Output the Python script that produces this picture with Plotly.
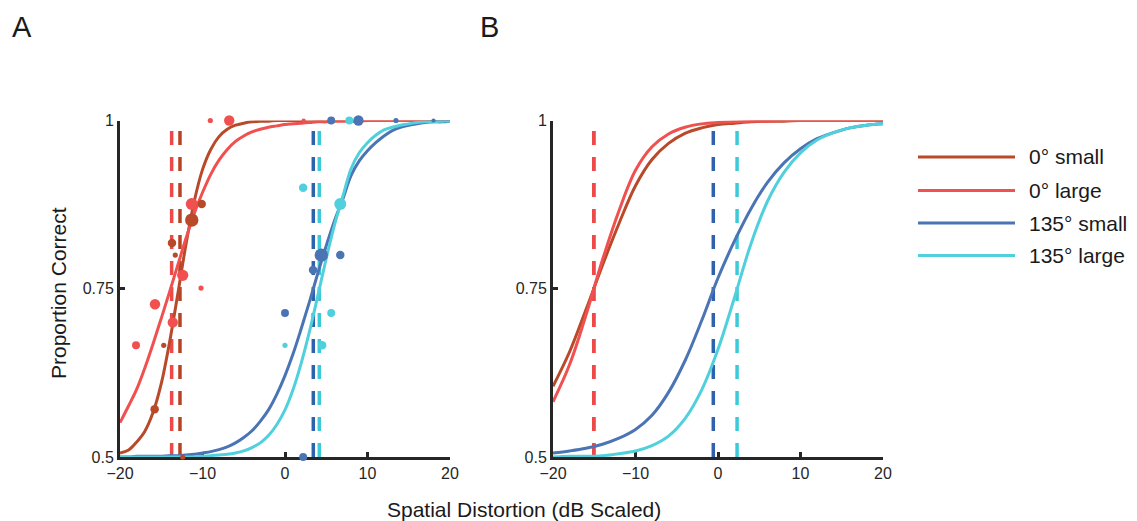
import numpy as np
import plotly.graph_objects as go

# ---------------- data ----------------
series_names = ["0° small", "0° large", "135° small", "135° large"]
series_colors = ["#b84a2a", "#f0504f", "#4b74b5", "#50d0dc"]
dash_colors = ["#b44424", "#ee4848", "#2f62ad", "#3ccad8"]

# Panel A fitted curves (x in dB, y proportion correct)
xa = list(range(-20, 21))
a_0_small = [0.506, 0.510, 0.522, 0.538, 0.566, 0.609, 0.670, 0.742, 0.816, 0.880, 0.927,
             0.957, 0.976, 0.987, 0.993, 0.996, 0.998, 0.999, 0.999, 1.0, 1.0,
             1.0, 1.0, 1.0, 1.0, 1.0, 1.0, 1.0, 1.0, 1.0, 1.0,
             1.0, 1.0, 1.0, 1.0, 1.0, 1.0, 1.0, 1.0, 1.0, 1.0]
a_0_large = [0.551, 0.575, 0.600, 0.632, 0.668, 0.706, 0.745, 0.785, 0.825, 0.862, 0.893,
             0.920, 0.941, 0.957, 0.969, 0.977, 0.983, 0.987, 0.990, 0.992, 0.994,
             0.995, 0.996, 0.997, 0.998, 0.998, 0.999, 0.999, 0.999, 0.999, 1.0,
             1.0, 1.0, 1.0, 1.0, 1.0, 1.0, 1.0, 1.0, 1.0, 1.0]
a_135_small = [0.500, 0.500, 0.501, 0.501, 0.501, 0.501, 0.502, 0.502, 0.503, 0.504, 0.506,
               0.508, 0.511, 0.515, 0.521, 0.529, 0.539, 0.553, 0.570, 0.593, 0.621,
               0.654, 0.692, 0.732, 0.774, 0.814, 0.851, 0.883, 0.918, 0.940, 0.955,
               0.967, 0.977, 0.985, 0.990, 0.993, 0.995, 0.997, 0.998, 0.998, 0.999]
a_135_large = [0.500, 0.500, 0.500, 0.500, 0.500, 0.500, 0.500, 0.500, 0.500, 0.500, 0.501,
               0.502, 0.503, 0.504, 0.506, 0.509, 0.514, 0.521, 0.532, 0.548, 0.570,
               0.601, 0.641, 0.688, 0.741, 0.795, 0.845, 0.887, 0.928, 0.952, 0.967,
               0.978, 0.986, 0.990, 0.993, 0.995, 0.997, 0.998, 0.998, 0.999, 0.999]

# Panel A thresholds (75% correct)
a_thresholds = [-12.73, -13.74, 3.43, 4.16]

# Panel A observed data: x, proportion correct, number of trials
a_pts_x = [
    [-11.3, -10.1, -13.7, -13.3, -14.7, -15.8, -12.4],
    [-9.05, -6.76, -11.3, -12.4, -10.18, -15.76, -13.6, -18.06, 2.26],
    [0.0, 2.2, 4.4, 6.7, 3.4, 5.6, 8.9, 13.45, 18.0],
    [2.2, 6.7, 5.6, 4.5, 0.0, 7.8],
]
a_pts_y = [
    [0.852, 0.876, 0.818, 0.80, 0.666, 0.571, 0.50],
    [1.0, 1.0, 0.876, 0.770, 0.751, 0.727, 0.70, 0.666, 1.0],
    [0.714, 0.50, 0.80, 0.80, 0.778, 1.0, 1.0, 1.0, 1.0],
    [0.90, 0.876, 0.714, 0.666, 0.666, 1.0],
]
a_pts_n = [
    [20, 8, 8, 3, 3, 8, 3],
    [3, 12, 16, 14, 3, 12, 12, 7, 2],
    [7, 7, 20, 8, 8, 7, 12, 3, 2],
    [8, 16, 7, 8, 3, 7],
]

# Panel B fitted curves (group level)
xb = list(range(-20, 21, 2))
b_0_small = [0.605, 0.656, 0.719, 0.785, 0.847, 0.903, 0.942, 0.966, 0.981, 0.989, 0.994,
             0.996, 0.998, 0.999, 0.999, 1.0, 1.0, 1.0, 1.0, 1.0, 1.0]
b_0_large = [0.582, 0.637, 0.711, 0.793, 0.866, 0.926, 0.961, 0.980, 0.990, 0.995, 0.997,
             0.998, 0.999, 0.999, 1.0, 1.0, 1.0, 1.0, 1.0, 1.0, 1.0]
b_135_small = [0.506, 0.509, 0.513, 0.519, 0.528, 0.541, 0.562, 0.596, 0.643, 0.702, 0.766,
               0.821, 0.869, 0.908, 0.937, 0.958, 0.973, 0.982, 0.989, 0.993, 0.995]
b_135_large = [0.500, 0.501, 0.501, 0.502, 0.505, 0.509, 0.517, 0.531, 0.557, 0.599, 0.660,
               0.737, 0.817, 0.880, 0.923, 0.952, 0.971, 0.982, 0.989, 0.993, 0.995]
b_thresholds = [-15.06, -15.06, -0.57, 2.31]

x_ticks = [-20, -10, 0, 10, 20]
y_ticks = [0.5, 0.75, 1]
y_ticklabels = ["0.5", "0.75", "1"]

a_curves = [a_0_small, a_0_large, a_135_small, a_135_large]
b_curves = [b_0_small, b_0_large, b_135_small, b_135_large]

# ---------------- figure ----------------
W, H = 1137, 521
FONT = "Liberation Sans, Arial, sans-serif"
AX = "#262626"

fig = go.Figure()

def add_panel(xref, yref, xs, curves, thresholds):
    for i, t in enumerate(thresholds):
        fig.add_trace(go.Scatter(
            x=[t, t], y=[0.5, 1.0], mode="lines", xaxis=xref, yaxis=yref,
            line=dict(color=dash_colors[i], width=3.5, dash="14px,12px"),
            showlegend=False, hoverinfo="skip"))
    for i, c in enumerate(curves):
        fig.add_trace(go.Scatter(
            x=xs, y=c, mode="lines", xaxis=xref, yaxis=yref,
            line=dict(color=series_colors[i], width=3, shape="spline", smoothing=1.0),
            name=series_names[i], showlegend=False, cliponaxis=False))

add_panel("x", "y", xa, a_curves, a_thresholds)
for i in range(4):
    fig.add_trace(go.Scatter(
        x=a_pts_x[i], y=a_pts_y[i], mode="markers", xaxis="x", yaxis="y",
        marker=dict(color=series_colors[i], size=[3.0 * np.sqrt(n) for n in a_pts_n[i]],
                    opacity=1, line=dict(width=0)),
        showlegend=False, cliponaxis=False, name=series_names[i]))
add_panel("x2", "y2", xb, b_curves, b_thresholds)

def px_x(p):
    return p / W

def px_y(p):
    return 1 - p / H

axis_common = dict(showline=True, linecolor=AX, linewidth=3, ticks="inside",
                   ticklen=5, tickwidth=2.5, tickcolor=AX, showgrid=False,
                   zeroline=False, layer="below traces", automargin=False,
                   tickfont=dict(family=FONT, size=16, color=AX))

yd = [px_y(457), px_y(120.5)]
fig.update_layout(
    width=W, height=H, margin=dict(l=0, r=0, t=0, b=0, pad=0, autoexpand=False),
    paper_bgcolor="white", plot_bgcolor="white",
    xaxis=dict(domain=[px_x(120), px_x(450)], range=[-20, 20], tickvals=x_ticks,
               anchor="y", **axis_common),
    yaxis=dict(domain=yd, range=[0.5, 1], tickvals=y_ticks, ticktext=y_ticklabels,
               anchor="x", **axis_common),
    xaxis2=dict(domain=[px_x(553), px_x(883)], range=[-20, 20], tickvals=x_ticks,
                anchor="y2", **axis_common),
    yaxis2=dict(domain=yd, range=[0.5, 1], tickvals=y_ticks, ticktext=y_ticklabels,
                anchor="x2", **axis_common),
    showlegend=False,
)

annots = [
    dict(text="A", x=px_x(22), y=px_y(27), font=dict(size=29)),
    dict(text="B", x=px_x(489), y=px_y(27), font=dict(size=29)),
    dict(text="Spatial Distortion (dB Scaled)", x=px_x(524), y=px_y(509), font=dict(size=21)),
    dict(text="Proportion Correct", x=px_x(58), y=px_y(293), font=dict(size=21), textangle=-90),
]
for a in annots:
    fig.add_annotation(xref="paper", yref="paper", showarrow=False,
                       xanchor="center", yanchor="middle",
                       text=a["text"], x=a["x"], y=a["y"], textangle=a.get("textangle", 0),
                       font=dict(family=FONT, color="#1a1a1a", size=a["font"]["size"]))

# manual legend with long line samples
leg_y = [157, 190.5, 223, 255.5]
for i, name in enumerate(series_names):
    fig.add_shape(type="line", xref="paper", yref="paper",
                  x0=px_x(918), x1=px_x(1015), y0=px_y(leg_y[i]), y1=px_y(leg_y[i]),
                  line=dict(color=series_colors[i], width=3))
    fig.add_annotation(xref="paper", yref="paper", showarrow=False,
                       x=px_x(1027), y=px_y(leg_y[i]), xanchor="left", yanchor="middle",
                       text=name, font=dict(family=FONT, size=21, color="#1a1a1a"))

fig.write_html("out.html", config={"displayModeBar": False},
               post_script="document.body.style.margin='0';document.body.style.overflow='hidden';")
